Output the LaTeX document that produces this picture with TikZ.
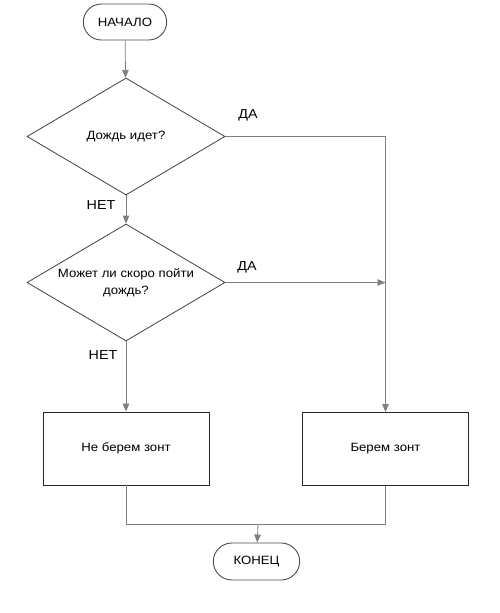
\documentclass[tikz,border=0pt]{standalone}
\usepackage{fontspec}
\setmainfont{Liberation Sans}[FakeStretch=1.1]
\usepackage{tikz}
\usetikzlibrary{
  positioning,
  arrows.meta,
  shapes.geometric,
  shapes.misc
}
\definecolor{lineGray}{HTML}{7F7F7F}
\tikzstyle{term}=[rounded rectangle, draw=black!70, line width=0.9pt, minimum width=90pt, minimum height=36pt, font=\fontsize{12}{14}\selectfont]
\tikzstyle{decide}=[diamond, aspect=1.7, draw=black!75, line width=0.8pt, minimum width=198pt, minimum height=117pt, inner sep=1pt, align=center, font=\fontsize{12}{17}\selectfont]
\tikzstyle{act}=[rectangle, draw=black!85, line width=0.9pt, minimum width=166pt, minimum height=73pt, font=\fontsize{12}{14}\selectfont]
\tikzstyle{lbl}=[font=\fontsize{13}{15}\selectfont]
\tikzstyle{line}=[lineGray, line width=0.8pt]
\tikzstyle{flow}=[line, -{Triangle[length=8pt, width=6.5pt]}]

\begin{document}
\begin{tikzpicture}[x=1pt, y=-1pt]
      \useasboundingbox (0,0) rectangle (500,613);

      % ブロック
      \node[term] (start) at (125,22) {НАЧАЛО};
      \node[decide] (rain) at (126,136.5) {Дождь идет?};
      \node[decide] (soon) at (126,282.5) {Может ли скоро пойти\\дождь?};
      \node[act] (noumb) at (126,448.5) {Не берем зонт};
      \node[act] (umb) at (385.5,449) {Берем зонт};
      \node[term, minimum width=93pt, minimum height=37pt] (stop) at (256.5,561.5) {КОНЕЦ};

      % 合流点
      \coordinate (join) at (258,524);

      % ラベル
      \node[lbl] (yes1) at (248,115.5) {ДА};
      \node[lbl] (no1) at (101,205) {НЕТ};
      \node[lbl] (yes2) at (247,267.5) {ДА};
      \node[lbl] (no2) at (103,355) {НЕТ};

      % 矢印
      \draw[flow] (start) -- (rain);
      \draw[flow] (rain) -- (soon);
      \draw[flow] (soon) -- (noumb);
      \draw[flow] (rain.east) -| (umb.north);
      \draw[flow] (soon.east) -- (soon.east -| umb.north);
      \draw[line] (noumb.south) |- (join);
      \draw[line] (umb.south) |- (join);
      \draw[flow] (join) -- (stop);
    \end{tikzpicture}
\end{document}
